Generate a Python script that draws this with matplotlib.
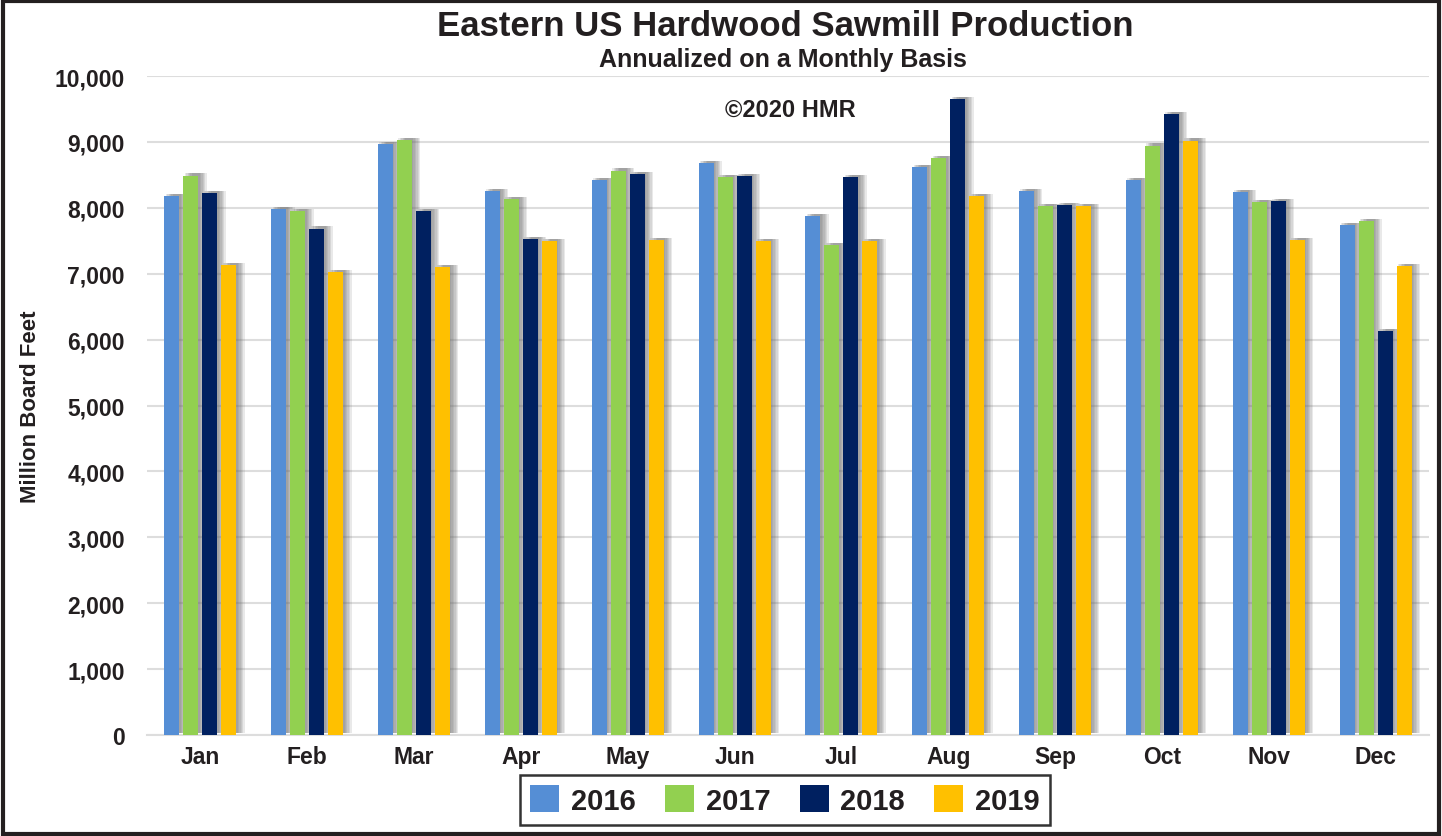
import matplotlib.pyplot as plt
import matplotlib.patheffects as pe
from matplotlib.patches import Rectangle
import numpy as np

plt.rcParams['font.family'] = ['Liberation Sans', 'DejaVu Sans']
plt.rcParams['font.weight'] = 'bold'

months = ['Jan', 'Feb', 'Mar', 'Apr', 'May', 'Jun', 'Jul', 'Aug', 'Sep', 'Oct', 'Nov', 'Dec']
years = ['2016', '2017', '2018', '2019']
prod_2016 = [8180, 7980, 8970, 8255, 8420, 8680, 7875, 8615, 8260, 8415, 8235, 7745]
prod_2017 = [8490, 7950, 9030, 8135, 8565, 8470, 7440, 8760, 8020, 8945, 8090, 7805]
prod_2018 = [8220, 7685, 7950, 7525, 8515, 8475, 8460, 9650, 8045, 9425, 8100, 6125]
prod_2019 = [7130, 7025, 7105, 7495, 7510, 7495, 7495, 8180, 8025, 9020, 7505, 7115]
colors = ['#558ED5', '#92D050', '#002060', '#FFC000']
yticks = [0, 1000, 2000, 3000, 4000, 5000, 6000, 7000, 8000, 9000, 10000]

fig = plt.figure(figsize=(14.42, 8.37), dpi=100)
ax = fig.add_axes([147 / 1442, 1 - 736 / 837, 1282 / 1442, 659 / 837])

x = np.arange(len(months))
width = 0.14
step = 0.178
# soft drop shadow built from a few faint offset copies
shadow = [pe.SimplePatchShadow(offset=(o, 1.5), shadow_rgbFace='#666666', alpha=0.14) for o in (1, 2, 3, 4, 5, 6)]
shadow.append(pe.Normal())
for i, vals in enumerate([prod_2016, prod_2017, prod_2018, prod_2019]):
    ax.bar(x + (i - 1.5) * step, vals, width, color=colors[i], label=years[i],
           zorder=3, path_effects=shadow)

ax.set_xlim(-0.5, 11.5)
ax.set_ylim(0, 10000)
ax.set_yticks(yticks)
ax.set_yticklabels([f'{v:,}' for v in yticks])
ax.set_xticks(x)
ax.set_xticklabels(months)
ax.tick_params(axis='both', length=0, labelsize=16.5, labelcolor='#231F20')
ax.tick_params(axis='y', pad=16)
ax.tick_params(axis='x', pad=7)
ax.grid(axis='y', color='#DDDDDD', linewidth=1.5, zorder=0)
for s in ['top', 'right', 'left']:
    ax.spines[s].set_visible(False)
ax.spines['bottom'].set_color('#DDDDDD')
ax.spines['bottom'].set_linewidth(1.5)
ax.set_ylabel('Million Board Feet', fontsize=16, fontweight='bold', labelpad=10, color='#231F20')

fig.text(785 / 1442, 1 - 26 / 837, 'Eastern US Hardwood Sawmill Production', ha='center', va='center',
         fontsize=25, fontweight='bold', color='#231F20')
fig.text(783 / 1442, 1 - 60 / 837, 'Annualized on a Monthly Basis', ha='center', va='center',
         fontsize=18, fontweight='bold', color='#231F20')
fig.text(790 / 1442, 1 - 110 / 837, '\u00a92020 HMR', ha='center', va='center',
         fontsize=17, fontweight='bold', color='#231F20')

leg = fig.legend(loc='center', bbox_to_anchor=(785 / 1442, 1 - 801 / 837), ncol=4,
                 fontsize=21, frameon=True, fancybox=False, edgecolor='black',
                 handlelength=1.0, handleheight=1.0, handletextpad=0.4, columnspacing=1.0,
                 borderpad=0.35)
leg.get_frame().set_linewidth(1.8)
for h in leg.legend_handles:
    h.set_path_effects([])
for t in leg.get_texts():
    t.set_color('#231F20')

fig.patches.append(Rectangle((0.002, 0.002), 0.996, 0.996, transform=fig.transFigure,
                             fill=False, edgecolor='#231F20', linewidth=3))

fig.savefig('out.png', dpi=100)
